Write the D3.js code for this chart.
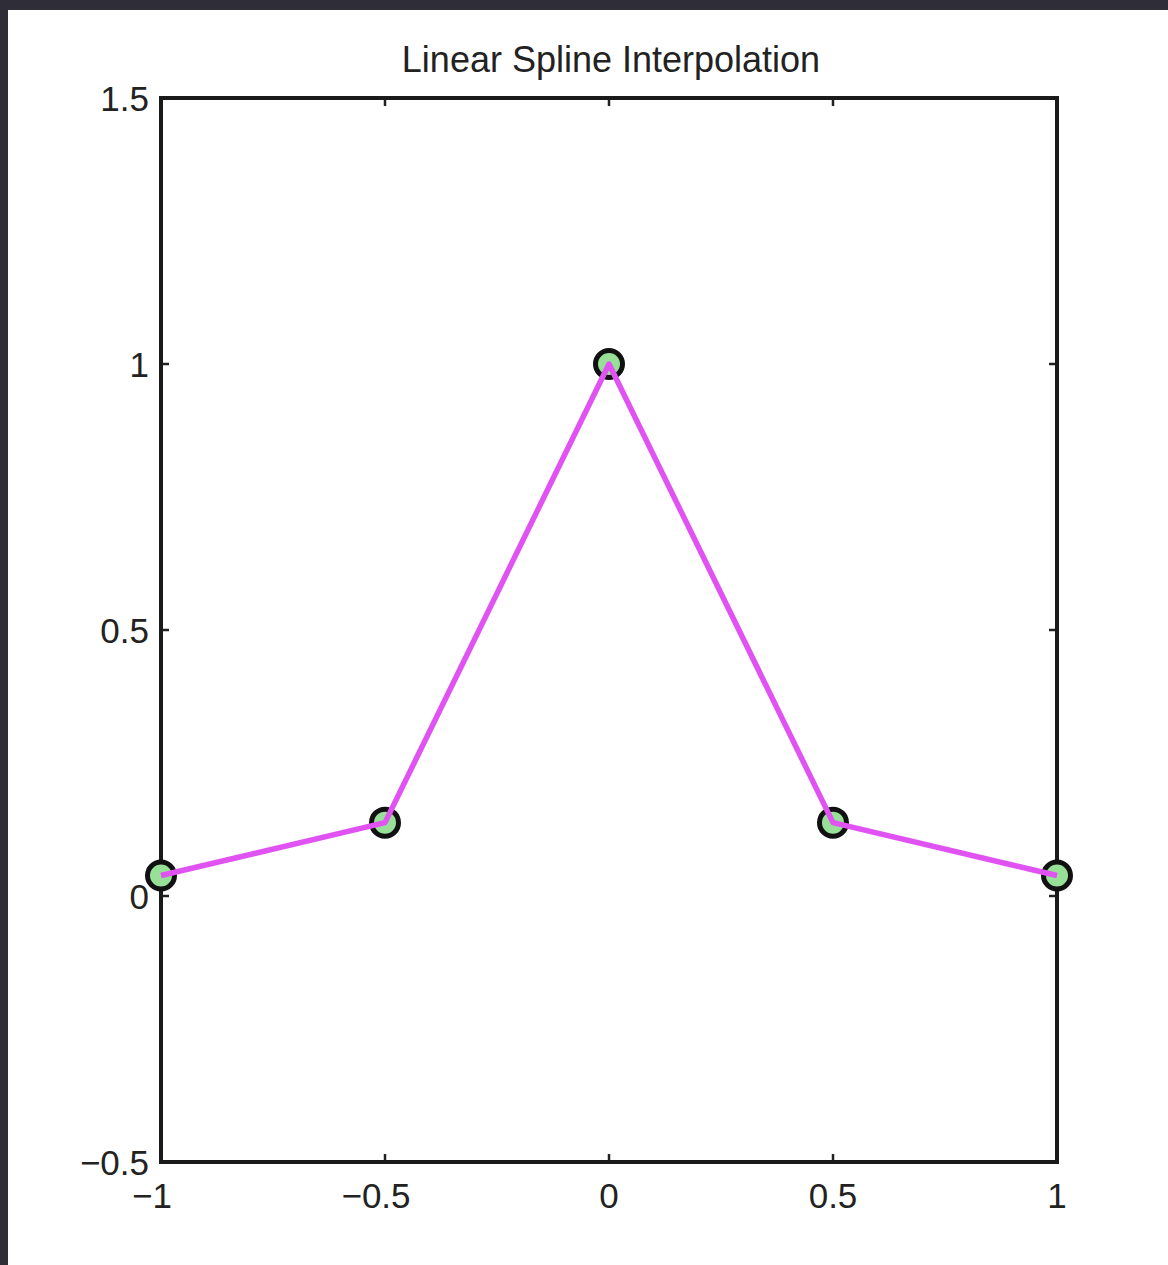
<!DOCTYPE html>
<html>
<head>
<meta charset="utf-8">
<script src="https://cdn.jsdelivr.net/npm/d3@7"></script>
<style>
  html, body { margin: 0; padding: 0; background: #2f2e38; }
  svg { display: block; }
</style>
</head>
<body>
<script>
const title = "Linear Spline Interpolation";
const xValues = [-1, -0.5, 0, 0.5, 1];
const yValues = [0.0385, 0.1379, 1, 0.1379, 0.0385];
const xTicks = [-1, -0.5, 0, 0.5, 1];
const yTicks = [-0.5, 0, 0.5, 1, 1.5];
const xDomain = [-1, 1];
const yDomain = [-0.5, 1.5];

const W = 1168, H = 1265;
const svg = d3.select("body").append("svg").attr("width", W).attr("height", H);

// white panel
svg.append("rect").attr("x", 8).attr("y", 10).attr("width", W - 8).attr("height", H - 10).attr("fill", "#fff");

const L = 161, R = 1057, T = 98, B = 1162;
const x = d3.scaleLinear().domain(xDomain).range([L, R]);
const y = d3.scaleLinear().domain(yDomain).range([B, T]);

const fmt = d => (d < 0 ? "\u2212" : "") + Math.abs(d);
const font = "'Liberation Sans', Arial, Helvetica, sans-serif";

// ticks (inward) on all four sides
const tl = 8;
const g = svg.append("g").attr("stroke", "#222").attr("stroke-width", 2.5);
xTicks.forEach(t => {
  g.append("line").attr("x1", x(t)).attr("x2", x(t)).attr("y1", B).attr("y2", B - tl);
  g.append("line").attr("x1", x(t)).attr("x2", x(t)).attr("y1", T).attr("y2", T + tl);
});
yTicks.forEach(t => {
  g.append("line").attr("y1", y(t)).attr("y2", y(t)).attr("x1", L).attr("x2", L + tl);
  g.append("line").attr("y1", y(t)).attr("y2", y(t)).attr("x1", R).attr("x2", R - tl);
});

// box
svg.append("rect").attr("x", L).attr("y", T).attr("width", R - L).attr("height", B - T)
  .attr("fill", "none").attr("stroke", "#1a1a1a").attr("stroke-width", 4);

// tick labels
svg.append("g").selectAll("text").data(xTicks).join("text")
  .attr("x", d => x(d) - (d < 0 ? 9 : 0)).attr("y", B + 46)
  .attr("text-anchor", "middle").attr("font-family", font).attr("font-size", 35)
  .attr("fill", "#222").text(fmt);

svg.append("g").selectAll("text").data(yTicks).join("text")
  .attr("x", L - 12).attr("y", d => y(d) + 13)
  .attr("text-anchor", "end").attr("font-family", font).attr("font-size", 35)
  .attr("fill", "#222").text(fmt);

// title
svg.append("text").attr("x", 611).attr("y", 72)
  .attr("text-anchor", "middle").attr("font-family", font).attr("font-size", 36)
  .attr("fill", "#222").text(title);

const data = xValues.map((v, i) => [v, yValues[i]]);

// markers
svg.append("g").selectAll("circle").data(data).join("circle")
  .attr("cx", d => x(d[0])).attr("cy", d => y(d[1])).attr("r", 13.5)
  .attr("fill", "#98e098").attr("stroke", "#111").attr("stroke-width", 5);

// line
svg.append("path").datum(data)
  .attr("d", d3.line().x(d => x(d[0])).y(d => y(d[1])))
  .attr("fill", "none").attr("stroke", "#e052f2").attr("stroke-width", 5.5)
  .attr("stroke-linejoin", "round");
</script>
</body>
</html>
